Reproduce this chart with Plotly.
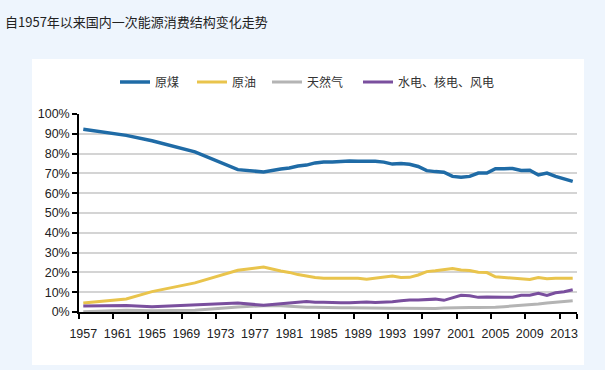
import plotly.graph_objects as go

years = [1957, 1962, 1965, 1970, 1975, 1978, 1980, 1981, 1982, 1983, 1984, 1985, 1986,
         1987, 1988, 1989, 1990, 1991, 1992, 1993, 1994, 1995, 1996, 1997, 1998, 1999,
         2000, 2001, 2002, 2003, 2004, 2005, 2006, 2007, 2008, 2009, 2010, 2011, 2012,
         2013, 2014]
coal = [92.3, 89.2, 86.5, 80.9, 71.9, 70.7, 72.2, 72.7, 73.7, 74.2, 75.3, 75.8, 75.8,
        76.2, 76.2, 76.1, 76.2, 76.1, 75.7, 74.7, 75.0, 74.6, 73.5, 71.4, 70.9, 70.6,
        68.5, 68.0, 68.5, 70.2, 70.2, 72.4, 72.4, 72.5, 71.5, 71.6, 69.2, 70.2, 68.5,
        67.4, 66.0]
oil = [4.6, 6.6, 10.3, 14.7, 21.1, 22.7, 20.7, 20.0, 18.9, 18.1, 17.4, 17.1, 17.2,
       17.0, 17.0, 17.1, 16.6, 17.1, 17.5, 18.2, 17.4, 17.5, 18.7, 20.4, 20.8, 21.5,
       22.0, 21.2, 21.0, 20.1, 19.9, 17.8, 17.5, 17.0, 16.7, 16.4, 17.4, 16.8, 17.0,
       17.1, 17.1]
gas = [0.1, 0.9, 0.6, 0.9, 2.5, 3.2, 3.1, 2.8, 2.5, 2.4, 2.4, 2.2, 2.3,
       2.1, 2.1, 2.0, 2.1, 2.0, 1.9, 1.9, 1.9, 1.8, 1.8, 1.8, 1.8, 2.0,
       2.2, 2.4, 2.3, 2.3, 2.3, 2.4, 2.7, 3.0, 3.4, 3.5, 4.0, 4.6, 4.8,
       5.3, 5.7]
hydro = [3.0, 3.3, 2.6, 3.5, 4.5, 3.4, 4.0, 4.5, 4.9, 5.3, 4.9, 4.9, 4.7,
         4.7, 4.7, 4.8, 5.1, 4.8, 4.9, 5.2, 5.7, 6.1, 6.0, 6.4, 6.5, 5.9,
         7.3, 8.4, 8.2, 7.4, 7.6, 7.4, 7.4, 7.5, 8.4, 8.5, 9.4, 8.4, 9.7,
         10.2, 11.2]

series_names = ["原煤", "原油", "天然气", "水电、核电、风电"]
tick_years = list(range(1957, 2014, 4))
tick_labels = [str(y) for y in tick_years]
y_ticks = list(range(0, 101, 10))
y_labels = [f"{v}%" for v in y_ticks]

colors = ["#1F6BA6", "#E9C44C", "#B4B4B4", "#7A4F9E"]
widths = [3.5, 3, 3, 3]
legend_ids = ["legend", "legend2", "legend3", "legend4"]
legend_px = [115, 192, 267, 358]

fig = go.Figure()
data = [coal, oil, gas, hydro]
order = [2, 1, 3, 0]  # draw gas beneath, coal on top
for i in order:
    fig.add_trace(go.Scatter(x=years, y=data[i], mode="lines", name=series_names[i],
                             line=dict(color=colors[i], width=widths[i]),
                             legend=legend_ids[i]))

W, H = 605, 370
L, R, T, B = 79, 28, 114, 58
pw, ph = W - L - R, H - T - B

def px_x(px):
    return (px - L) / pw

def px_y(py):
    return (H - B - py) / ph

tick_font = dict(family="Liberation Sans Narrow, Arial Narrow, Liberation Sans, Arial", size=12.5, color="#222")
legend_font = dict(family="Noto Sans CJK SC", size=12, color="#333")

legends = {}
for lid, lx in zip(legend_ids, legend_px):
    legends[lid] = dict(orientation="h", x=px_x(lx), y=px_y(82), xanchor="left", yanchor="middle",
                        bgcolor="rgba(0,0,0,0)", font=legend_font)

fig.update_layout(
    width=W, height=H,
    margin=dict(l=L, r=R, t=T, b=B, autoexpand=False),
    paper_bgcolor="#EEF5FD",
    plot_bgcolor="rgba(0,0,0,0)",
    showlegend=True,
    **legends,
    xaxis=dict(range=[1956.5, 2014.5], tickmode="array", tickvals=tick_years,
               ticktext=tick_labels, ticks="", showgrid=False, zeroline=False,
               showline=True, linecolor="#000", linewidth=1.5,
               ticklabelstandoff=9, tickfont=tick_font,
               minor=dict(tickmode="array", tickvals=[y - 0.5 for y in tick_years] + [2014.5],
                          ticks="outside", ticklen=5, tickcolor="#000", tickwidth=1.5,
                          showgrid=False)),
    yaxis=dict(range=[0, 100], tickmode="array", tickvals=y_ticks, ticktext=y_labels,
               ticks="outside", ticklen=5, tickcolor="#000", tickwidth=1.5,
               showgrid=True, gridcolor="#D4D4D4", gridwidth=1.5, zeroline=False,
               showline=True, linecolor="#000", linewidth=1.5, tickfont=tick_font),
    shapes=[dict(type="rect", xref="paper", yref="paper", layer="below",
                 x0=px_x(32), x1=px_x(584), y0=px_y(365), y1=px_y(59),
                 fillcolor="#FFFFFF", line=dict(width=0))],
    annotations=[dict(text="自1957年以来国内一次能源消费结构变化走势", xref="paper", yref="paper",
                      x=px_x(3), y=px_y(21), xanchor="left", yanchor="middle", showarrow=False,
                      font=dict(family="Noto Sans CJK SC", size=13, color="#222"))],
)

fig.write_html("out.html", config={"displayModeBar": False},
               post_script="document.body.style.margin='0';document.body.style.background='#EEF5FD';")
